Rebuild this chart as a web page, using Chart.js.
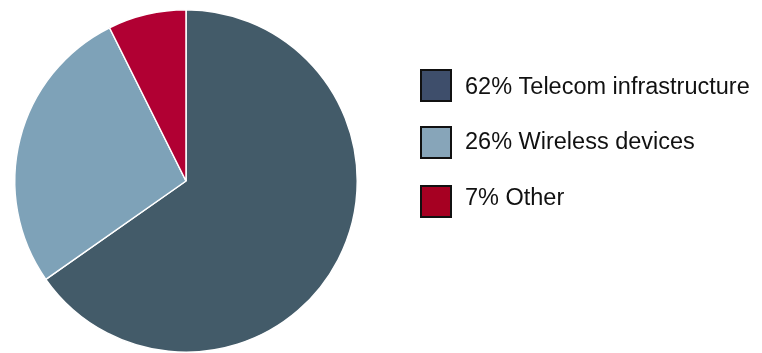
<!DOCTYPE html>
<html>
<head>
<meta charset="utf-8">
<script src="https://cdn.jsdelivr.net/npm/chart.js@4"></script>
<style>
  html, body { margin: 0; padding: 0; background: #fff; overflow: hidden; }
  #wrap { width: 762px; height: 353px; position: relative; }
</style>
</head>
<body>
<div id="wrap"><canvas id="chart"></canvas></div>
<script>
// segment data
const categories = ['Telecom infrastructure', 'Wireless devices', 'Other'];
const shares = [62, 26, 7];
const sliceColors = ['#435b69', '#7ea2b8', '#b10033'];
const keyColors = ['#3e4e6b', '#87a5b9', '#a60022'];

// legend drawn beside the pie, one row per slice
const sideLegend = {
  id: 'sideLegend',
  afterDraw(chart) {
    const ctx = chart.ctx;
    const rows = [
      { box: 70, text: 94 },
      { box: 127, text: 149 },
      { box: 186, text: 205 }
    ];
    ctx.save();
    chart.data.labels.forEach((label, i) => {
      const r = rows[i];
      ctx.fillStyle = keyColors[i];
      ctx.fillRect(421, r.box, 30, 31);
      ctx.lineWidth = 2;
      ctx.strokeStyle = '#111';
      ctx.strokeRect(421, r.box, 30, 31);
      ctx.fillStyle = '#111';
      ctx.font = '23.5px "Liberation Sans", Arial, sans-serif';
      ctx.textBaseline = 'alphabetic';
      ctx.fillText(chart.data.datasets[0].data[i] + '% ' + label, 465, r.text);
    });
    ctx.restore();
  }
};

const ctx = document.getElementById('chart').getContext('2d');
const chart = new Chart(ctx, {
  type: 'pie',
  data: {
    labels: categories,
    datasets: [{
      data: shares,
      backgroundColor: sliceColors,
      borderColor: '#ffffff',
      borderWidth: 1.5
    }]
  },
  options: {
    responsive: true,
    maintainAspectRatio: false,
    animation: false,
    layout: { padding: { left: 14, right: 404, top: 9, bottom: 0 } },
    plugins: {
      legend: { display: false },
      tooltip: { enabled: false }
    }
  },
  plugins: [sideLegend]
});
</script>
</body>
</html>
